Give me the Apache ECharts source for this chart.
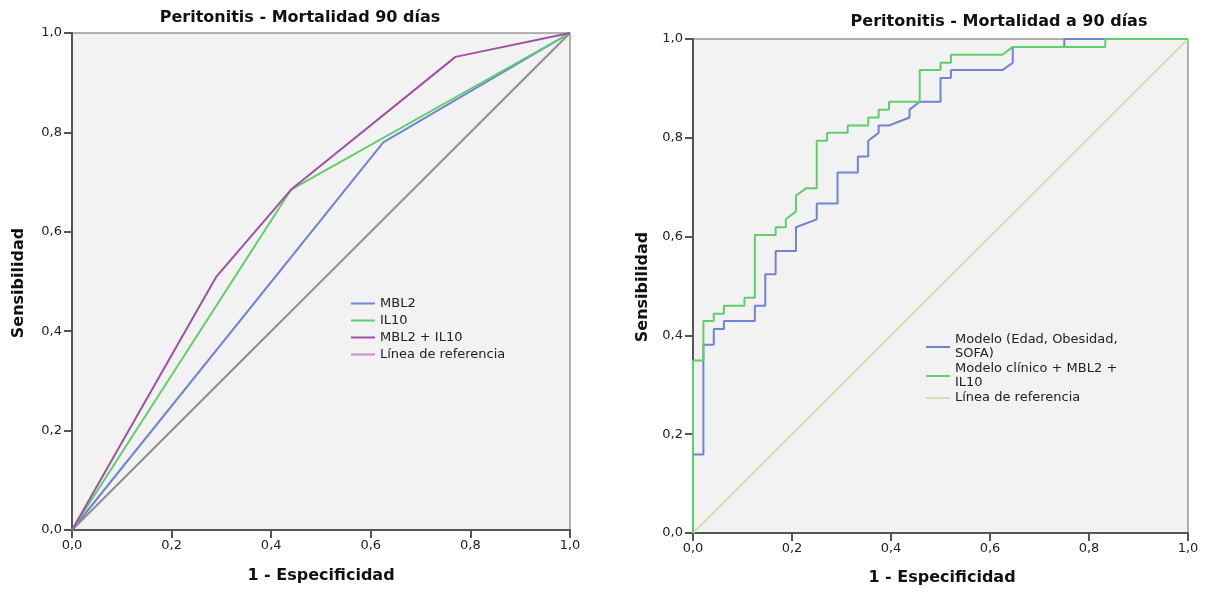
<!DOCTYPE html>
<html>
<head>
<meta charset="utf-8">
<title>Peritonitis - Curvas ROC</title>
<script src="https://cdn.jsdelivr.net/npm/echarts@6/dist/echarts.min.js"></script>
<style>
  html, body { margin: 0; padding: 0; background: #ffffff; }
  #chart { width: 1207px; height: 592px; }
</style>
</head>
<body>
<div id="chart"></div>
<script>
// Tick labels shared by both axes of both panels
const tickLabels = ['0,0', '0,2', '0,4', '0,6', '0,8', '1,0'];

// Panel 1: Peritonitis - Mortalidad 90 días  ([1 - especificidad, sensibilidad])
const rocMBL2 = [[0, 0], [0.625, 0.78], [1, 1]];
const rocIL10 = [[0, 0], [0.44, 0.685], [1, 1]];
const rocMBL2IL10 = [[0, 0], [0.29, 0.51], [0.44, 0.685], [0.77, 0.952], [1, 1]];
const refLine = [[0, 0], [1, 1]];

// Panel 2: Peritonitis - Mortalidad a 90 días
const rocModelo = [
  [0, 0], [0, 0.159], [0.021, 0.159], [0.021, 0.381], [0.042, 0.381], [0.042, 0.413],
  [0.0625, 0.413], [0.0625, 0.429], [0.125, 0.429], [0.125, 0.460], [0.146, 0.460],
  [0.146, 0.524], [0.167, 0.524], [0.167, 0.571], [0.208, 0.571], [0.208, 0.619],
  [0.25, 0.635], [0.25, 0.667], [0.292, 0.667], [0.292, 0.730], [0.333, 0.730],
  [0.333, 0.762], [0.354, 0.762], [0.354, 0.794], [0.375, 0.810], [0.375, 0.825],
  [0.396, 0.825], [0.4375, 0.841], [0.4375, 0.857], [0.458, 0.873], [0.5, 0.873],
  [0.5, 0.921], [0.521, 0.921], [0.521, 0.937], [0.625, 0.937], [0.646, 0.952],
  [0.646, 0.984], [0.75, 0.984], [0.75, 1], [1, 1]
];
const rocModeloClinico = [
  [0, 0], [0, 0.349], [0.021, 0.349], [0.021, 0.429], [0.042, 0.429], [0.042, 0.444],
  [0.0625, 0.444], [0.0625, 0.460], [0.104, 0.460], [0.104, 0.476], [0.125, 0.476],
  [0.125, 0.603], [0.167, 0.603], [0.167, 0.619], [0.1875, 0.619], [0.1875, 0.635],
  [0.208, 0.651], [0.208, 0.683], [0.229, 0.698], [0.25, 0.698], [0.25, 0.794],
  [0.271, 0.794], [0.271, 0.810], [0.3125, 0.810], [0.3125, 0.825], [0.354, 0.825],
  [0.354, 0.841], [0.375, 0.841], [0.375, 0.857], [0.396, 0.857], [0.396, 0.873],
  [0.458, 0.873], [0.458, 0.937], [0.5, 0.937], [0.5, 0.952], [0.521, 0.952],
  [0.521, 0.968], [0.625, 0.968], [0.646, 0.984], [0.833, 0.984], [0.833, 1], [1, 1]
];

const FONT = '"DejaVu Sans", "Liberation Sans", sans-serif';
const COLORS = {
  blue: '#6f84d2',
  green: '#5fcf6b',
  purple: '#9f52a5',
  lilac: '#c68fca',
  grey: '#8f8f8f',
  khaki: '#e0dcb0'
};

function tickFmt(v) {
  return tickLabels[Math.round(v / 0.2)];
}

function makeAxis(gridIndex, margin) {
  return {
    type: 'value',
    gridIndex: gridIndex,
    min: 0,
    max: 1,
    interval: 0.2,
    axisLine: { show: true, onZero: false, lineStyle: { color: '#555', width: 2 } },
    axisTick: { show: true, length: 8, lineStyle: { color: '#555', width: 2 } },
    axisLabel: { formatter: tickFmt, color: '#222', fontFamily: FONT, fontSize: 13, margin: margin },
    splitLine: { show: false }
  };
}

function lineSeries(name, data, color, idx) {
  return {
    name: name,
    type: 'line',
    xAxisIndex: idx,
    yAxisIndex: idx,
    data: data,
    symbol: 'none',
    silent: true,
    animation: false,
    lineStyle: { color: color, width: 2 },
    itemStyle: { color: color }
  };
}

// Legend swatches are short horizontal strokes
const LEGEND_ICON = 'rect';

const chart = echarts.init(document.getElementById('chart'), null, { renderer: 'canvas' });

chart.setOption({
  backgroundColor: '#ffffff',
  animation: false,
  grid: [
    { left: 72, top: 33, width: 498, height: 497, show: true, backgroundColor: '#f2f2f2', borderColor: '#666', borderWidth: 1 },
    { left: 693, top: 39, width: 495, height: 494, show: true, backgroundColor: '#f2f2f2', borderColor: '#666', borderWidth: 1 }
  ],
  xAxis: [makeAxis(0, 9), makeAxis(1, 9)],
  yAxis: [makeAxis(0, 10), makeAxis(1, 10)],
  legend: [
    {
      orient: 'vertical', left: 351, top: 296, padding: 0, icon: LEGEND_ICON,
      itemWidth: 24, itemHeight: 2, itemGap: 2,
      textStyle: { fontFamily: FONT, fontSize: 13, color: '#222', lineHeight: 15 },
      selectedMode: false,
      data: [
        { name: 'MBL2' },
        { name: 'IL10' },
        { name: 'MBL2 + IL10' },
        { name: 'Línea de referencia', itemStyle: { color: COLORS.lilac } }
      ]
    },
    {
      orient: 'vertical', left: 926, top: 333, padding: 0, icon: LEGEND_ICON,
      itemWidth: 24, itemHeight: 2, itemGap: 1,
      textStyle: { fontFamily: FONT, fontSize: 13, color: '#222', lineHeight: 14 },
      selectedMode: false,
      data: [
        { name: 'Modelo (Edad, Obesidad,\nSOFA)' },
        { name: 'Modelo clínico + MBL2 +\nIL10' },
        { name: 'Línea de referencia ', itemStyle: { color: COLORS.khaki } }
      ]
    }
  ],
  series: [
    lineSeries('Línea de referencia', refLine, COLORS.grey, 0),
    lineSeries('MBL2', rocMBL2, COLORS.blue, 0),
    lineSeries('IL10', rocIL10, COLORS.green, 0),
    lineSeries('MBL2 + IL10', rocMBL2IL10, COLORS.purple, 0),
    lineSeries('Línea de referencia ', refLine, COLORS.khaki, 1),
    lineSeries('Modelo (Edad, Obesidad,\nSOFA)', rocModelo, COLORS.blue, 1),
    lineSeries('Modelo clínico + MBL2 +\nIL10', rocModeloClinico, COLORS.green, 1)
  ],
  graphic: [
    { type: 'text', x: 300, y: 18, style: { text: 'Peritonitis - Mortalidad 90 días', font: 'bold 16px ' + FONT, fill: '#111', textAlign: 'center', textVerticalAlign: 'middle' } },
    { type: 'text', x: 999, y: 22, style: { text: 'Peritonitis - Mortalidad a 90 días', font: 'bold 16px ' + FONT, fill: '#111', textAlign: 'center', textVerticalAlign: 'middle' } },
    { type: 'text', x: 321, y: 576, style: { text: '1 - Especificidad', font: 'bold 16px ' + FONT, fill: '#111', textAlign: 'center', textVerticalAlign: 'middle' } },
    { type: 'text', x: 942, y: 578, style: { text: '1 - Especificidad', font: 'bold 16px ' + FONT, fill: '#111', textAlign: 'center', textVerticalAlign: 'middle' } },
    { type: 'text', x: 19, y: 283, rotation: Math.PI / 2, style: { text: 'Sensibilidad', font: 'bold 16px ' + FONT, fill: '#111', textAlign: 'center', textVerticalAlign: 'middle' } },
    { type: 'text', x: 643, y: 287, rotation: Math.PI / 2, style: { text: 'Sensibilidad', font: 'bold 16px ' + FONT, fill: '#111', textAlign: 'center', textVerticalAlign: 'middle' } }
  ]
});
</script>
</body>
</html>
